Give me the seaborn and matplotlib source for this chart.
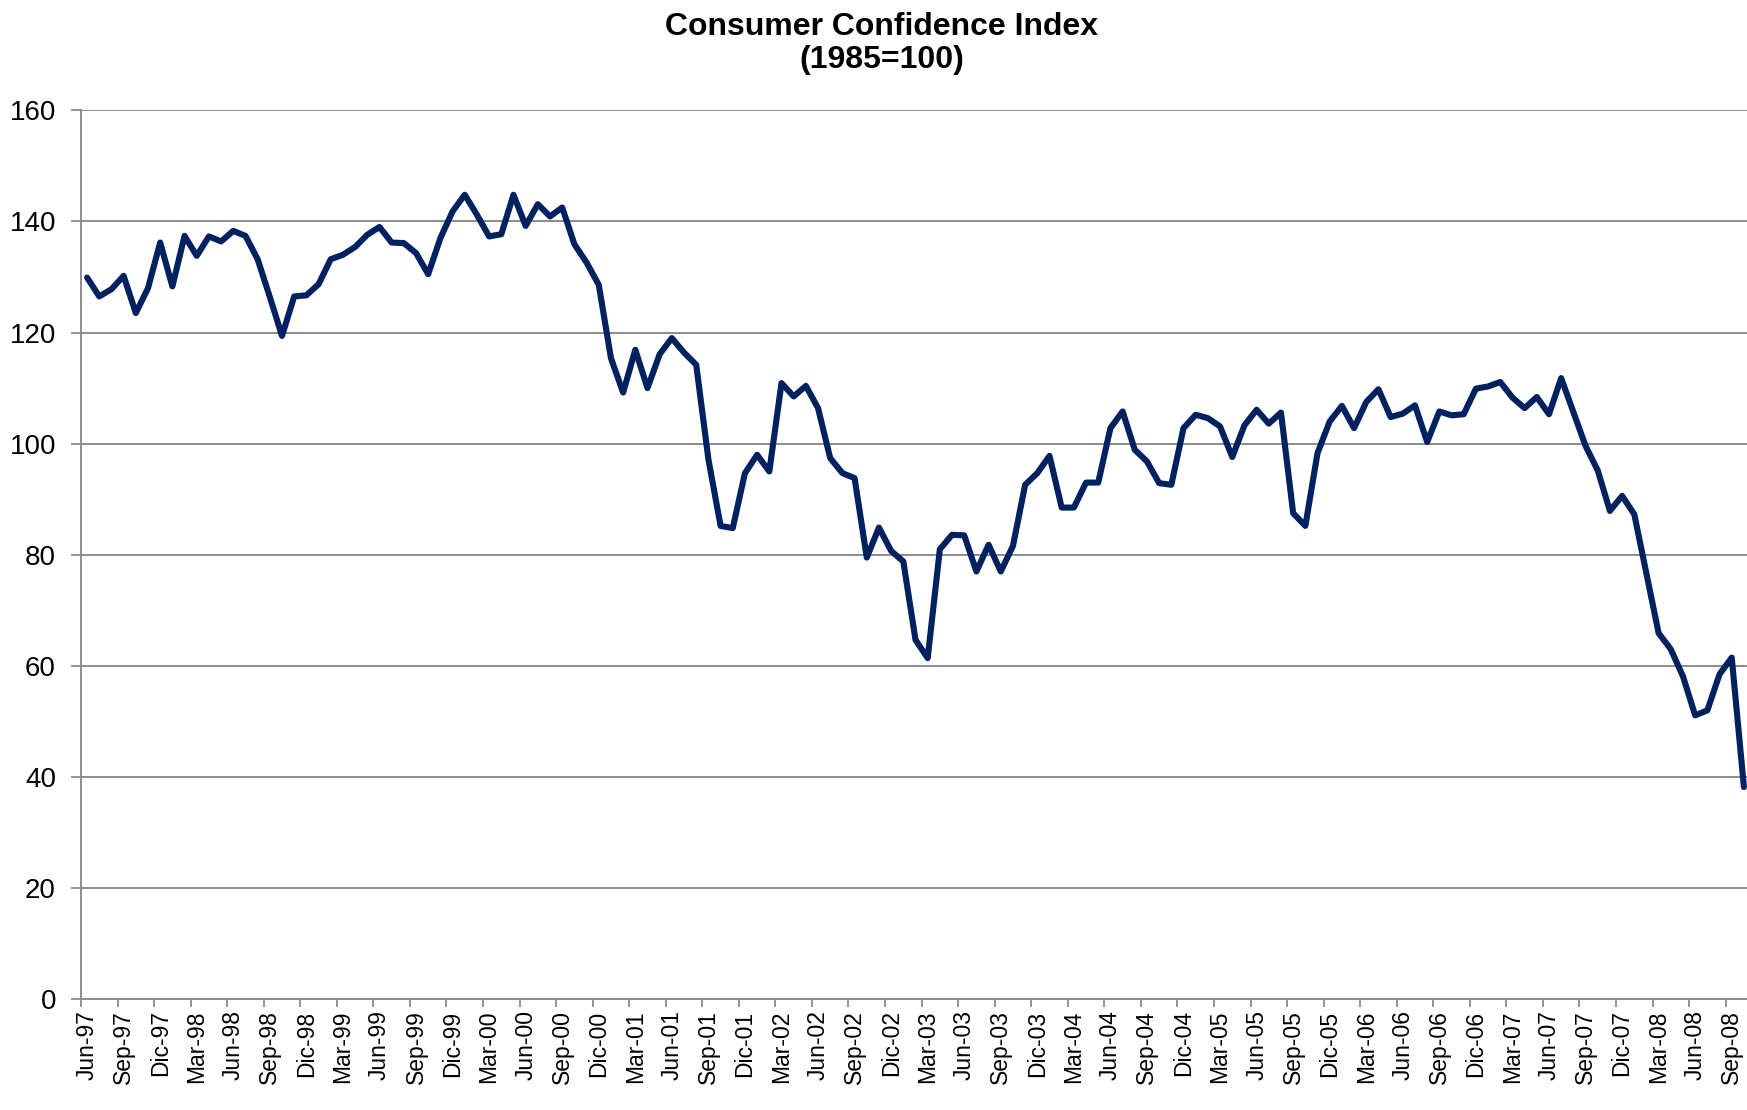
import pandas as pd
import seaborn as sns
import matplotlib.pyplot as plt

# monthly index, Jun-97 .. Oct-08
values = [
    129.9, 126.5, 127.8, 130.2, 123.5, 128.0, 136.2, 128.3, 137.4, 133.8,
    137.3, 136.4, 138.3, 137.4, 133.2, 126.4, 119.4, 126.5, 126.7, 128.7,
    133.2, 134.0, 135.4, 137.6, 139.0, 136.2, 136.1, 134.3, 130.5, 137.0,
    141.8, 144.8, 141.2, 137.3, 137.7, 144.8, 139.2, 143.1, 140.9, 142.5,
    135.9, 132.6, 128.6, 115.4, 109.2, 116.9, 110.0, 116.1, 119.0, 116.4,
    114.2, 97.2, 85.2, 84.8, 94.7, 98.0, 95.0, 110.9, 108.5, 110.4,
    106.4, 97.4, 94.7, 93.8, 79.5, 84.9, 80.7, 78.8, 64.7, 61.4,
    81.0, 83.6, 83.5, 77.0, 81.8, 77.0, 81.6, 92.6, 94.7, 97.8,
    88.5, 88.5, 93.0, 93.0, 102.8, 105.8, 98.9, 96.8, 92.9, 92.6,
    102.8, 105.2, 104.6, 103.1, 97.6, 103.3, 106.1, 103.6, 105.6, 87.5,
    85.2, 98.3, 104.0, 106.8, 102.8, 107.5, 109.8, 104.8, 105.4, 106.9,
    100.3, 105.8, 105.1, 105.3, 109.9, 110.3, 111.1, 108.3, 106.4, 108.4,
    105.3, 111.8, 105.7, 99.6, 95.2, 87.9, 90.6, 87.3, 76.6, 65.9,
    63.0, 58.1, 51.1, 52.0, 58.5, 61.5, 38.2,
]

month_names = ["Ene", "Feb", "Mar", "Abr", "May", "Jun",
               "Jul", "Ago", "Sep", "Oct", "Nov", "Dic"]

# build month labels starting Jun-97
months = []
for k in range(len(values)):
    m = (5 + k) % 12
    y = 97 + (5 + k) // 12
    months.append(f"{month_names[m]}-{y % 100:02d}")

df = pd.DataFrame({"idx": range(len(values)), "month": months, "cci": values})

sns.set_style("white")
plt.rcParams["font.family"] = ["Liberation Sans", "DejaVu Sans"]
plt.rcParams["text.color"] = "black"

fig = plt.figure(figsize=(17.47, 11.10), dpi=100)
ax = fig.add_axes([81 / 1747, 110.7 / 1110, 1669 / 1747, 889 / 1110])

sns.lineplot(data=df, x="idx", y="cci", ax=ax, color="#00215F", linewidth=4.4)

ax.set_xlim(-0.5, len(values) - 0.5)
ax.set_ylim(0, 160)
ax.set_yticks(range(0, 161, 20))
ax.yaxis.grid(True, color="#8C8C8C", linewidth=1.4)
ax.xaxis.grid(False)

# tick marks between categories, labels on categories
ax.set_xticks([i - 0.5 for i in range(0, len(values), 3)])
ax.set_xticklabels([])
ax.set_xticks(list(range(0, len(values), 3)), minor=True)
ax.set_xticklabels(df["month"][::3], minor=True, rotation=90, fontsize=16.5)
ax.tick_params(axis="x", which="major", length=6, width=1.3, color="#8C8C8C", direction="out", bottom=True)
ax.tick_params(axis="x", which="minor", length=0, pad=8, labelcolor="black")
ax.tick_params(axis="y", length=7, width=1.3, color="#8C8C8C", direction="out", left=True, pad=11,
               labelsize=20, labelcolor="black")

for side in ["top", "right"]:
    ax.spines[side].set_visible(False)
for side in ["left", "bottom"]:
    ax.spines[side].set_color("#8C8C8C")
    ax.spines[side].set_linewidth(1.4)

ax.set_xlabel("")
ax.set_ylabel("")

fig.text(0.5 + 8 / 1747, 1 - 12 / 1110, "Consumer Confidence Index\n(1985=100)", ha="center", va="top",
         fontsize=23, fontweight="bold", linespacing=1.15, color="black")

fig.savefig("out.png", dpi=100)
